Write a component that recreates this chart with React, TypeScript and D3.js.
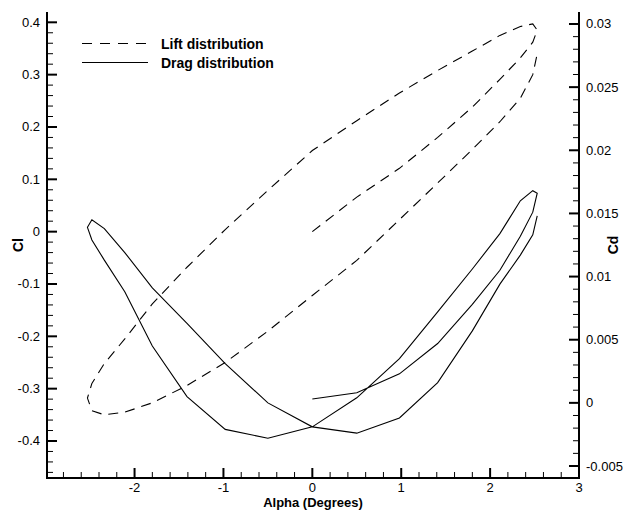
import React from 'react';
import * as d3 from 'd3';

// Angle of attack path (degrees)
const alpha = [0, 0.5, 0.98, 1.41, 1.8, 2.11, 2.34, 2.48, 2.53, 2.48, 2.34, 2.11, 1.8, 1.41, 0.98, 0.5, 0,
  -0.5, -0.98, -1.41, -1.8, -2.11, -2.34, -2.48, -2.53, -2.48, -2.34, -2.11, -1.8, -1.41, -0.98, -0.5, 0,
  0.5, 0.98, 1.41, 1.8, 2.11, 2.34, 2.48, 2.53];

// Lift coefficient (left axis)
const liftCl = [0, 0.066, 0.121, 0.18, 0.238, 0.291, 0.332, 0.362, 0.385, 0.397, 0.392, 0.375, 0.345, 0.308, 0.265, 0.212, 0.155,
  0.079, 0.004, -0.068, -0.138, -0.205, -0.252, -0.29, -0.318, -0.342, -0.35, -0.345, -0.327, -0.294, -0.25, -0.19, -0.122,
  -0.055, 0.023, 0.093, 0.157, 0.21, 0.255, 0.3, 0.34];

// Drag coefficient (right axis)
const dragCd = [0.0003, 0.0008, 0.0023, 0.0047, 0.0078, 0.0105, 0.0132, 0.0151, 0.0166, 0.0168, 0.016, 0.0134, 0.0106, 0.0072, 0.0035, 0.0004, -0.0019,
  -0.0028, -0.0021, 0.0005, 0.0045, 0.0088, 0.0113, 0.0129, 0.0139, 0.0145, 0.0138, 0.0119, 0.0091, 0.0063, 0.0031, 0.0, -0.0019,
  -0.0024, -0.0012, 0.0016, 0.0057, 0.0094, 0.0117, 0.0133, 0.0148];

const xTicks = [-2, -1, 0, 1, 2, 3];
const clTicks = [-0.4, -0.3, -0.2, -0.1, 0, 0.1, 0.2, 0.3, 0.4];
const cdTicks = [-0.005, 0, 0.005, 0.01, 0.015, 0.02, 0.025, 0.03];
const legendLabels = ['Lift distribution', 'Drag distribution'];
const xTitle = 'Alpha (Degrees)';
const clTitle = 'Cl';
const cdTitle = 'Cd';

const FONT = '"Liberation Sans", Arial, Helvetica, sans-serif';

export default function App() {
  const W = 628, H = 510;
  const L = 47, R = 579, T = 12, B = 478;
  const x = d3.scaleLinear().domain([-2.985, 3]).range([L, R]);
  const yl = d3.scaleLinear().domain([-0.4707, 0.4197]).range([B, T]);
  const yr = d3.scaleLinear().domain([-0.00595, 0.03095]).range([B, T]);

  const liftPath = d3.line<number>().x((_, i) => x(alpha[i])).y(d => yl(d))(liftCl) || '';
  const dragPath = d3.line<number>().x((_, i) => x(alpha[i])).y(d => yr(d))(dragCd) || '';

  const [x0, x1] = x.domain();
  const xMinor = d3.range(-2.8, 3.0001, 0.2).filter(v => v >= x0 && v <= x1 && Math.abs(v - Math.round(v)) > 1e-6);
  const [l0, l1] = yl.domain();
  const lMinor = d3.range(-0.46, 0.4201, 0.02).filter(v => v >= l0 && v <= l1 + 1e-6 && Math.abs(v * 10 - Math.round(v * 10)) > 1e-6);
  const [r0, r1] = yr.domain();
  const rMinor = d3.range(-0.005, 0.0301, 0.001).filter(v => v >= r0 && v <= r1 && Math.abs(v * 200 - Math.round(v * 200)) > 1e-6);

  const major = 10, minor = 6;
  const fmt = (v: number) => String(+v.toFixed(4));

  return (
    <svg width={W} height={H} style={{ position: 'absolute', left: 0, top: 0, background: '#fff' }}
      fontFamily={FONT}>
      <rect x={0} y={0} width={W} height={H} fill="#fff" />
      {/* curves */}
      <path d={liftPath} fill="none" stroke="#000" strokeWidth={1.1} strokeDasharray="10,7" />
      <path d={dragPath} fill="none" stroke="#000" strokeWidth={1.1} />

      {/* axes lines */}
      <g stroke="#000" strokeWidth={2} fill="none">
        <line x1={L} y1={T} x2={L} y2={B + 1} />
        <line x1={R} y1={T} x2={R} y2={B + 1} />
        <line x1={L - 1} y1={B} x2={R + 1} y2={B} />
      </g>

      {/* ticks */}
      <g stroke="#000">
        {xTicks.map(v => <line key={'xm' + v} x1={x(v)} x2={x(v)} y1={B} y2={B - major} strokeWidth={2} />)}
        {xMinor.map(v => <line key={'xn' + v} x1={x(v)} x2={x(v)} y1={B} y2={B - minor} strokeWidth={1} />)}
        {clTicks.map(v => <line key={'lm' + v} x1={L} x2={L + major} y1={yl(v)} y2={yl(v)} strokeWidth={2} />)}
        {lMinor.map(v => <line key={'ln' + v} x1={L} x2={L + minor} y1={yl(v)} y2={yl(v)} strokeWidth={1} />)}
        {cdTicks.map(v => <line key={'rm' + v} x1={R} x2={R - major} y1={yr(v)} y2={yr(v)} strokeWidth={2} />)}
        {rMinor.map(v => <line key={'rn' + v} x1={R} x2={R - minor} y1={yr(v)} y2={yr(v)} strokeWidth={1} />)}
      </g>

      {/* tick labels */}
      <g fontSize={13} fill="#000">
        {xTicks.map(v => (
          <text key={'xt' + v} x={x(v)} y={B + 14} textAnchor="middle">{fmt(v)}</text>
        ))}
        {clTicks.map(v => (
          <text key={'lt' + v} x={L - 7} y={yl(v)} textAnchor="end" dominantBaseline="central">{fmt(v)}</text>
        ))}
        {cdTicks.map(v => (
          <text key={'rt' + v} x={R + 7} y={yr(v)} textAnchor="start" dominantBaseline="central">{fmt(v)}</text>
        ))}
      </g>

      {/* axis titles */}
      <g fontWeight="bold" fill="#000">
        <text x={(L + R) / 2} y={507} fontSize={13} textAnchor="middle">{xTitle}</text>
        <text transform={`translate(17.5,${(T + B) / 2}) rotate(-90)`} fontSize={14} textAnchor="middle" dominantBaseline="central">{clTitle}</text>
        <text transform={`translate(612.5,${(T + B) / 2}) rotate(-90)`} fontSize={14} textAnchor="middle" dominantBaseline="central">{cdTitle}</text>
      </g>

      {/* legend */}
      <g>
        <line x1={82} x2={148} y1={43.5} y2={43.5} stroke="#000" strokeWidth={1.1} strokeDasharray="10,8" />
        <line x1={82} x2={148} y1={62.5} y2={62.5} stroke="#000" strokeWidth={1.1} />
        <text x={161} y={48.5} fontSize={14} fontWeight="bold">{legendLabels[0]}</text>
        <text x={161} y={67.5} fontSize={14} fontWeight="bold">{legendLabels[1]}</text>
      </g>
    </svg>
  );
}
